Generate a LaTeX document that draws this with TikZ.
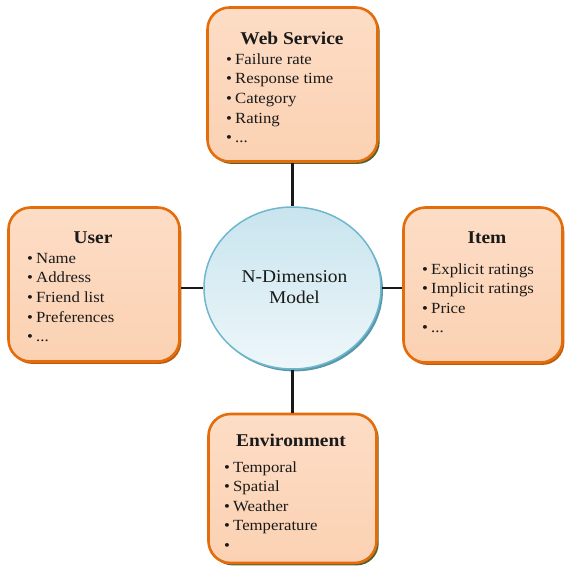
\documentclass[tikz,border=0pt]{standalone}
\usepackage{fontspec}
\setmainfont{Liberation Serif}[FakeStretch=1.08]
\usetikzlibrary{shapes.geometric,shadows}
\definecolor{boxborder}{HTML}{E46C0A}
\definecolor{boxtop}{HTML}{FDDDC6}
\definecolor{boxbot}{HTML}{FBD1B2}
\definecolor{olivesh}{HTML}{4F6228}
\definecolor{orangesh}{HTML}{B85A10}
\definecolor{circtop}{HTML}{C8E4EE}
\definecolor{circbot}{HTML}{EEF7FA}
\definecolor{circborder}{HTML}{6FB7CC}
\definecolor{circsh}{HTML}{2E7E96}
\definecolor{txt}{HTML}{1A1A1A}
\newcommand{\bl}[1]{\makebox[9pt][l]{\textbullet}#1}
\tikzset{
  box/.style={rectangle, rounded corners=22pt, draw=boxborder, line width=2.6pt,
    top color=boxtop, bottom color=boxbot, inner sep=0pt},
  oshadow/.style={drop shadow={shadow xshift=2.2pt, shadow yshift=-2.4pt, fill=olivesh, opacity=1}},
  rshadow/.style={drop shadow={shadow xshift=1.8pt, shadow yshift=-2.4pt, fill=orangesh, opacity=1}},
  title/.style={anchor=base, inner sep=0pt, font=\fontsize{18}{20}\selectfont\bfseries, text=txt},
  item/.style={anchor=base west, inner sep=0pt, font=\fontsize{15.5}{18}\selectfont, text=txt},
  conn/.style={line width=2.2pt, draw=black!90},
  model/.style={ellipse, minimum width=177pt, minimum height=162pt, draw=circborder, line width=1.5pt,
    top color=circtop, bottom color=circbot, inner sep=0pt,
    drop shadow={shadow xshift=2pt, shadow yshift=-2.4pt, fill=circsh, opacity=0.8}},
  mtext/.style={anchor=base, inner sep=0pt, font=\fontsize{18}{20}\selectfont, text=txt}
}
\begin{document}
\begin{tikzpicture}[x=1pt,y=-1pt]
\useasboundingbox (0,0) rectangle (565,568);
% boxes
\node[box, oshadow, minimum width=170pt, minimum height=154pt] (web) at (292.5,84.5) {};
\node[box, rshadow, minimum width=171pt, minimum height=154pt] (user) at (94,284.5) {};
\node[box, rshadow, minimum width=159pt, minimum height=155pt] (item) at (483,285) {};
\node[box, oshadow, minimum width=168pt, minimum height=149pt] (env) at (292.5,488.5) {};
% circle
\node[model] (ndm) at (292.5,288) {};
% connectors
\draw[conn] (web.south) -- (ndm.north);
\draw[conn] (ndm.south) -- (env.north);
\draw[conn] (user.east |- ndm.west) -- (ndm.west);
\draw[conn] (ndm.east) -- (item.west |- ndm.east);
% circle text
\node[mtext] (ndt1) at (294.5,282) {N-Dimension};
\node[mtext] (ndt2) at (294.5,303) {Model};
% web service
\node[title] (wt) at (292,44.5) {Web Service};
\node[item] (w1) at (226,64) {\bl{Failure rate}};
\node[item] (w2) at (226,83.7) {\bl{Response time}};
\node[item] (w3) at (226,103.4) {\bl{Category}};
\node[item] (w4) at (226,123.1) {\bl{Rating}};
\node[item] (w5) at (226,142.8) {\bl{...}};
% user
\node[title] (ut) at (93,243) {User};
\node[item] (u1) at (27,263) {\bl{Name}};
\node[item] (u2) at (27,282.7) {\bl{Address}};
\node[item] (u3) at (27,302.4) {\bl{Friend list}};
\node[item] (u4) at (27,322.1) {\bl{Preferences}};
\node[item] (u5) at (27,341.8) {\bl{...}};
% item
\node[title] (it) at (487,243) {Item};
\node[item] (i1) at (422,274) {\bl{Explicit ratings}};
\node[item] (i2) at (422,293.5) {\bl{Implicit ratings}};
\node[item] (i3) at (422,313) {\bl{Price}};
\node[item] (i4) at (422,332.5) {\bl{...}};
% environment
\node[title] (et) at (291,446) {Environment};
\node[item] (e1) at (224,472) {\bl{Temporal}};
\node[item] (e2) at (224,491.5) {\bl{Spatial}};
\node[item] (e3) at (224,511) {\bl{Weather}};
\node[item] (e4) at (224,530.5) {\bl{Temperature}};
\node[item] (e5) at (224,550) {\bl{}};
\end{tikzpicture}
\end{document}
